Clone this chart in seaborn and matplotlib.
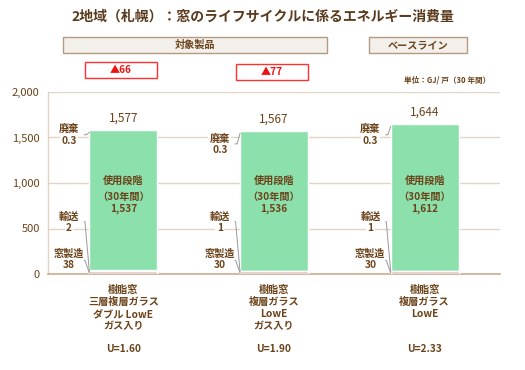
import matplotlib
matplotlib.use("Agg")
import seaborn as sns
import pandas as pd
import numpy as np
from matplotlib import pyplot as plt
from matplotlib.patches import Rectangle

# data
products = ["樹脂窓\n三層複層ガラス\nダブル LowE\nガス入り",
            "樹脂窓\n複層ガラス\nLowE\nガス入り",
            "樹脂窓\n複層ガラス\nLowE"]
u_values = ["U=1.60", "U=1.90", "U=2.33"]
manufacture = [38, 30, 30]
transport = [2, 1, 1]
use_phase = [1537, 1536, 1612]
disposal = [0.3, 0.3, 0.3]
totals = [1577, 1567, 1644]
reductions = ["▲66", "▲77"]

sns.set_theme(style="white")
plt.rcParams["font.family"] = ["Noto Sans CJK JP", "DejaVu Sans"]

brown = "#6b4219"
grid_c = "#e2d4c2"
spine_c = "#c9ad8e"

df = pd.DataFrame({"product": ["A", "B", "C"],
                   "manufacture": manufacture, "transport": transport,
                   "use": use_phase, "disposal": disposal})
df["b1"] = df["manufacture"]
df["b2"] = df["b1"] + df["transport"]
df["b3"] = df["b2"] + df["use"]
df["b4"] = df["b3"] + df["disposal"]

fig = plt.figure(figsize=(5.25, 3.7), dpi=100)
ax = fig.add_axes([48 / 525, 1 - 274 / 370, 452 / 525, 182 / 370])

w = 0.45
# stacked from top down so lower layers cover upper
sns.barplot(data=df, x="product", y="b4", color="#8ce0ab", width=w, ax=ax,
            saturation=1, zorder=3)
sns.barplot(data=df, x="product", y="b2", color="#aaaaaa", width=w, ax=ax,
            saturation=1, zorder=3)
sns.barplot(data=df, x="product", y="b1", color="#e3c6c6", width=w, ax=ax,
            saturation=1, zorder=3)

ax.set_xlim(-0.5, 2.5)
ax.set_ylim(0, 2000)
ax.set_yticks([0, 500, 1000, 1500, 2000])
ax.set_yticklabels(["0", "500", "1,000", "1,500", "2,000"], color=brown,
                   fontsize=8)
ax.tick_params(axis="y", length=0, pad=6)
ax.set_xticks([])
ax.set_xlabel("")
ax.set_ylabel("")
for y in [500, 1000, 1500, 2000]:
    ax.axhline(y, color=grid_c, lw=1, zorder=0)
for s in ["top", "right"]:
    ax.spines[s].set_visible(False)
ax.spines["left"].set_color(grid_c)
ax.spines["bottom"].set_color(spine_c)
ax.spines["left"].set_linewidth(1)
ax.spines["bottom"].set_linewidth(1.2)

lab_x = -0.36
tk = dict(color=brown, fontsize=7.3, fontweight="bold", ha="center",
          va="center", zorder=4)
bb = dict(facecolor="white", edgecolor="none", pad=1)
for i in range(3):
    left = i - w / 2
    ax.text(i, totals[i] + 140, f"{totals[i]:,}", color=brown, fontsize=8.5,
            ha="center", va="center", zorder=4)
    ax.text(i, 1030, "使用段階", **tk)
    ax.text(i, 850, "（30年間）", **tk)
    ax.text(i, 715, f"{use_phase[i]:,}", **tk)
    # side labels
    xl = i + lab_x
    top = 1590 if i != 1 else 1490
    ax.text(xl, top, "廃棄", bbox=bb, **tk)
    ax.text(xl, top - 130, str(disposal[i]), bbox=bb, **tk)
    ax.text(xl, 630, "輸送", bbox=bb, **tk)
    ax.text(xl, 505, str(transport[i]), bbox=bb, **tk)
    ax.text(xl, 225, "窓製造", bbox=bb, **tk)
    ax.text(xl, 100, str(manufacture[i]), bbox=bb, **tk)
    # leader lines
    ly = top - 60
    ax.plot([xl + 0.1, left - 0.02, left], [ly, ly, totals[i] - 20],
            color="#999999", lw=0.7, zorder=4)
    ax.plot([xl + 0.1, left - 0.03, left], [575, 575, 20],
            color="#999999", lw=0.7, zorder=4)
    ax.plot([xl + 0.1, left - 0.03, left], [150, 150, 10],
            color="#999999", lw=0.7, zorder=4)
    # product labels
    ax.text(i, -120, products[i], color=brown, fontsize=7.3,
            fontweight="bold", ha="center", va="top", linespacing=1.25,
            clip_on=False)
    ax.text(i, -820, u_values[i], color=brown, fontsize=7.3,
            fontweight="bold", ha="center", va="center", clip_on=False)

# title and header boxes
fig.text(0.5, 1 - 17 / 370, "2地域（札幌）：窓のライフサイクルに係るエネルギー消費量",
         color="#5a3a1c", fontsize=10, fontweight="bold", ha="center",
         va="center")


def header(x0, x1, y0, y1, txt, fc, ec, tc, lw):
    fig.patches.append(Rectangle((x0 / 525, 1 - y1 / 370), (x1 - x0) / 525,
                                 (y1 - y0) / 370, transform=fig.transFigure,
                                 facecolor=fc, edgecolor=ec, lw=lw))
    fig.text((x0 + x1) / 2 / 525, 1 - (y0 + y1) / 2 / 370, txt, color=tc,
             fontsize=7.3, fontweight="bold", ha="center", va="center")


header(63, 327, 37, 53, "対象製品", "#f3f0ec", "#b39a80", brown, 1)
header(369, 467, 37, 53, "ベースライン", "#f3f0ec", "#b39a80", brown, 1)
header(85, 157, 62, 78, reductions[0], "white", "#ff3030", "#ee1111", 1)
header(236, 308, 64, 80, reductions[1], "white", "#ff3030", "#ee1111", 1)

fig.text(490 / 525, 1 - 80 / 370, "単位：GJ/ 戸（30 年間）", color=brown,
         fontsize=5.5, fontweight="bold", ha="right", va="center")

fig.savefig("out.png", dpi=100, facecolor="white")
